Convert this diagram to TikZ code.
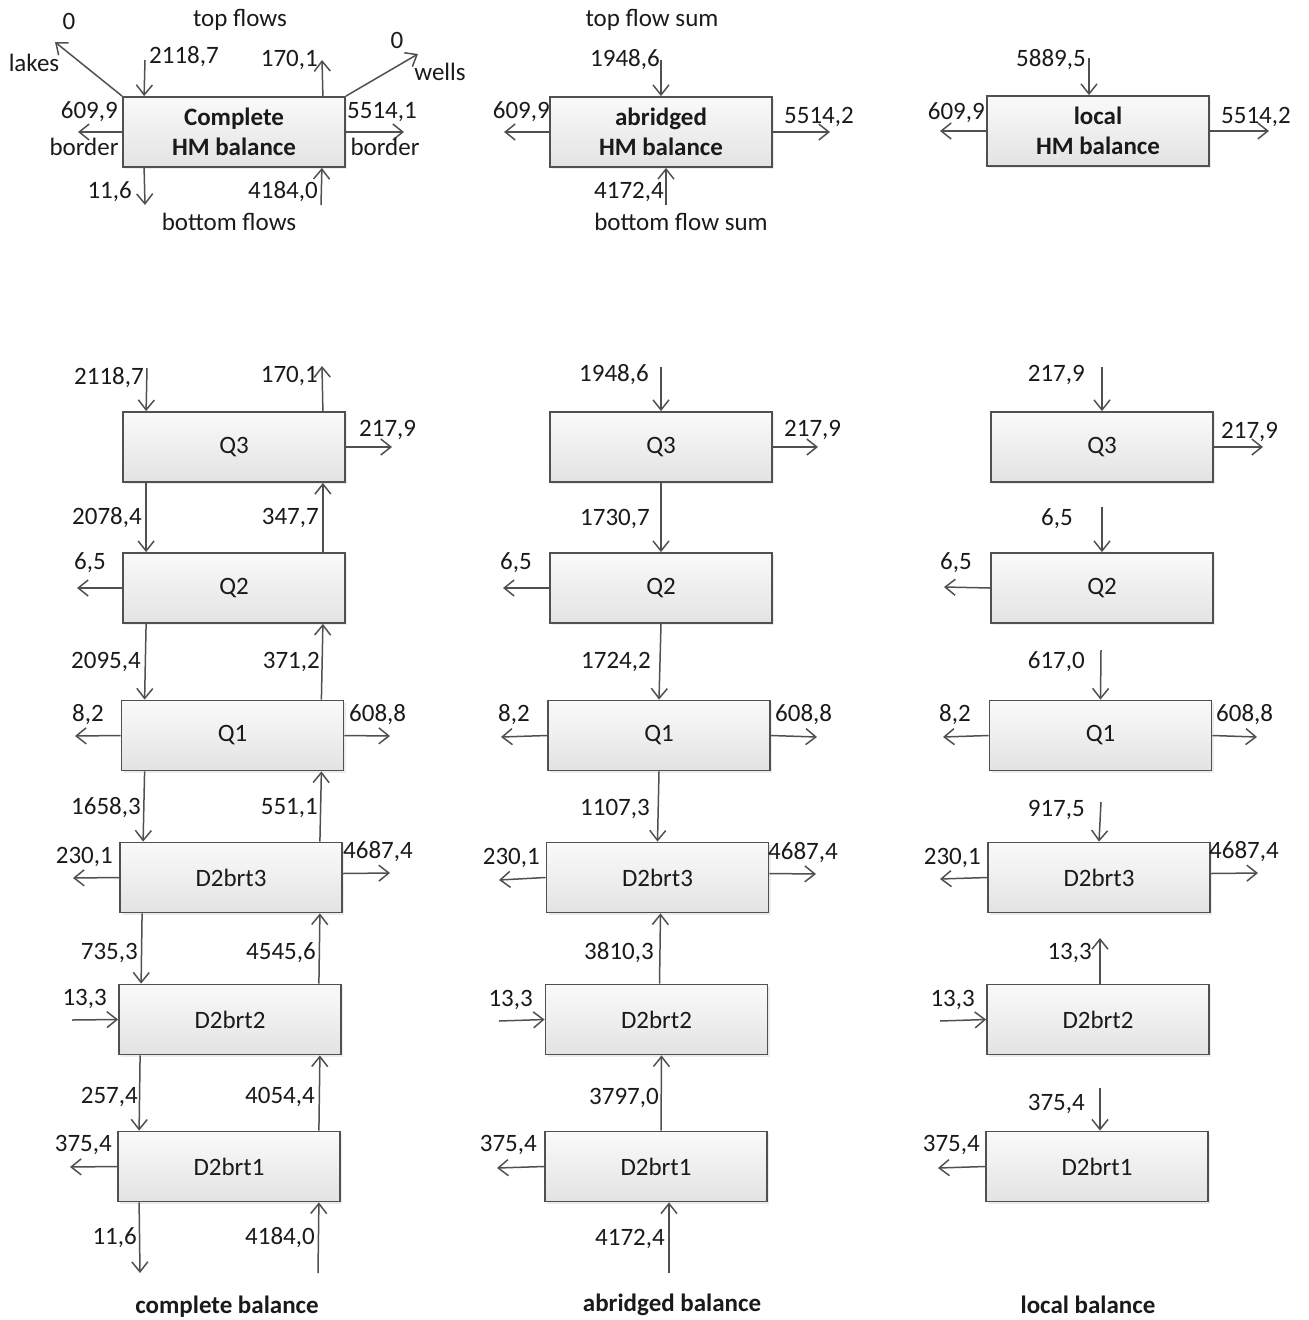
\documentclass[tikz,border=0pt]{standalone}
\usepackage{fontspec}
\setmainfont{Carlito}
\usetikzlibrary{arrows.meta,shadows}
\definecolor{ln}{HTML}{505050}
\definecolor{tx}{HTML}{1A1A1A}
\begin{document}
\begin{tikzpicture}[x=1pt,y=-1pt,
  font=\fontsize{25}{30}\selectfont, text=tx,
  blk/.style={draw=ln, line width=1.8pt, top color=black!2, bottom color=black!11,
    minimum width=222pt, minimum height=70pt, inner sep=0pt, align=center,
    drop shadow={shadow xshift=2pt,shadow yshift=-2pt,opacity=0.15}},
  flow/.style={draw=ln, line width=1.5pt, -{Straight Barb[length=10pt,width=16pt,line width=1.5pt]}},
  lbE/.style={anchor=east, inner sep=0pt},
  lbW/.style={anchor=west, inner sep=0pt},
  lbC/.style={inner sep=0pt},
  ttl/.style={inner sep=0pt, font=\fontsize{25}{30}\selectfont\bfseries}]
\useasboundingbox (0,0) rectangle (1309,1320);

% ---------------- boxes ----------------
\node[blk, font=\fontsize{25}{30}\selectfont\bfseries] (ct) at (234,132) {Complete\\HM balance};
\node[blk] (a3) at (234,447) {Q3};
\node[blk] (a2) at (234,588) {Q2};
\node[blk] (a1) at (232.5,735.5) {Q1};
\node[blk] (ad3) at (231,877.5) {D2brt3};
\node[blk] (ad2) at (230,1019.5) {D2brt2};
\node[blk] (ad1) at (229,1166.5) {D2brt1};

\node[blk, font=\fontsize{25}{30}\selectfont\bfseries] (bt) at (661,132) {abridged\\HM balance};
\node[blk] (b3) at (661,447) {Q3};
\node[blk] (b2) at (661,588) {Q2};
\node[blk] (b1) at (659,735.5) {Q1};
\node[blk] (bd3) at (657.5,877.5) {D2brt3};
\node[blk] (bd2) at (656.5,1019.5) {D2brt2};
\node[blk] (bd1) at (656,1166.5) {D2brt1};

\node[blk, font=\fontsize{25}{30}\selectfont\bfseries] (ctop) at (1098,131) {local\\HM balance};
\node[blk] (c3) at (1102,447) {Q3};
\node[blk] (c2) at (1102,588) {Q2};
\node[blk] (c1) at (1100.5,735.5) {Q1};
\node[blk] (cd3) at (1099,877.5) {D2brt3};
\node[blk] (cd2) at (1098,1019.5) {D2brt2};
\node[blk] (cd1) at (1097,1166.5) {D2brt1};

% ---------------- free ends ----------------
\coordinate (lakesE) at (55,42);
\coordinate (wellsE) at (418,54);
\coordinate (ctIn) at (145,60);
\coordinate (ctUp) at (322,60);
\coordinate (ctL) at (78,132);
\coordinate (ctR) at (404,132);
\coordinate (ctD) at (145,205);
\coordinate (ctB) at (321,205);

\coordinate (a3In) at (147,368);
\coordinate (a3Up) at (322,366);
\coordinate (a3R) at (392,447);
\coordinate (a2L) at (77,588);
\coordinate (a1L) at (75,736);
\coordinate (a1R) at (390,736);
\coordinate (ad3L) at (73,878);
\coordinate (ad3R) at (390,873);
\coordinate (ad2L) at (72,1020);
\coordinate (ad1L) at (70,1167);
\coordinate (ad1D) at (140,1273);
\coordinate (ad1B) at (318,1273);

\coordinate (btIn) at (661,60);
\coordinate (btL) at (504,132);
\coordinate (btR) at (830,132);
\coordinate (btB) at (666,205);
\coordinate (b3In) at (661,367);
\coordinate (b3R) at (818,447);
\coordinate (b2L) at (503,588);
\coordinate (b1L) at (501,737);
\coordinate (b1R) at (817,737);
\coordinate (bd3L) at (499,880);
\coordinate (bd3R) at (816,874);
\coordinate (bd2L) at (499,1021);
\coordinate (bd1L) at (497,1168);
\coordinate (bd1B) at (669,1273);

\coordinate (ctopIn) at (1089,58);
\coordinate (ctopL) at (940,131);
\coordinate (ctopR) at (1269,131);
\coordinate (c3In) at (1102,367);
\coordinate (c3R) at (1263,447);
\coordinate (c2In) at (1102,507);
\coordinate (c2L) at (944,587);
\coordinate (c1In) at (1101,650);
\coordinate (c1L) at (943,737);
\coordinate (c1R) at (1257,737);
\coordinate (cd3In) at (1101,802);
\coordinate (cd3L) at (940,879);
\coordinate (cd3R) at (1258,873);
\coordinate (cd2Up) at (1100,938);
\coordinate (cd2L) at (940,1021);
\coordinate (cd1In) at (1100,1088);
\coordinate (cd1L) at (938,1168);

% ---------------- complete balance (top) ----------------
\draw[flow] (ct.north west) -- (lakesE);
\draw[flow] (ct.north east) -- (wellsE);
\draw[flow] (ctIn) -- ([xshift=22pt]ct.north west);
\draw[flow] ([xshift=-23pt]ct.north east) -- (ctUp);
\draw[flow] (ct.west) -- (ctL);
\draw[flow] (ct.east) -- (ctR);
\draw[flow] ([xshift=22pt]ct.south west) -- (ctD);
\draw[flow] (ctB) -- ([xshift=-24pt]ct.south east);

\node[lbC] (t1) at (240,20) {top flows};
\node[lbC] (t2) at (69,21) {0};
\node[lbC] (t3) at (34,63) {lakes};
\node[lbW] (t4) at (149,57) {2118,7};
\node[lbE] (t5) at (318,60) {170,1};
\node[lbC] (t6) at (397,40) {0};
\node[lbC] (t7) at (440,72) {wells};
\node[lbE] (t8) at (118,112) {609,9};
\node[lbC] (t9) at (84,147) {border};
\node[lbW] (t10) at (347,112) {5514,1};
\node[lbC] (t11) at (385,147) {border};
\node[lbE] (t12) at (132,192) {11,6};
\node[lbE] (t13) at (318,192) {4184,0};
\node[lbC] (t14) at (229,222) {bottom flows};

% ---------------- complete balance (layers) ----------------
\draw[flow] (a3In) -- ([xshift=24pt]a3.north west);
\draw[flow] ([xshift=-23pt]a3.north east) -- (a3Up);
\draw[flow] (a3.east) -- (a3R);
\draw[flow] ([xshift=24pt]a3.south west) -- ([xshift=24pt]a2.north west);
\draw[flow] ([xshift=-23pt]a2.north east) -- ([xshift=-23pt]a3.south east);
\draw[flow] (a2.west) -- (a2L);
\draw[flow] ([xshift=24pt]a2.south west) -- ([xshift=24pt]a1.north west);
\draw[flow] ([xshift=-23pt]a1.north east) -- ([xshift=-23pt]a2.south east);
\draw[flow] (a1.west) -- (a1L);
\draw[flow] (a1.east) -- (a1R);
\draw[flow] ([xshift=24pt]a1.south west) -- ([xshift=24pt]ad3.north west);
\draw[flow] ([xshift=-23pt]ad3.north east) -- ([xshift=-23pt]a1.south east);
\draw[flow] (ad3.west) -- (ad3L);
\draw[flow] ([yshift=4pt]ad3.east) -- (ad3R);
\draw[flow] ([xshift=23pt]ad3.south west) -- ([xshift=23pt]ad2.north west);
\draw[flow] ([xshift=-23pt]ad2.north east) -- ([xshift=-23pt]ad3.south east);
\draw[flow] (ad2L) -- (ad2.west);
\draw[flow] ([xshift=22pt]ad2.south west) -- ([xshift=22pt]ad1.north west);
\draw[flow] ([xshift=-22pt]ad1.north east) -- ([xshift=-22pt]ad2.south east);
\draw[flow] (ad1.west) -- (ad1L);
\draw[flow] ([xshift=22pt]ad1.south west) -- (ad1D);
\draw[flow] (ad1B) -- ([xshift=-22pt]ad1.south east);

\node[lbE] (u1) at (144,378) {2118,7};
\node[lbE] (u2) at (318,376) {170,1};
\node[lbW] (u3) at (359,430) {217,9};
\node[lbE] (u4) at (142,518) {2078,4};
\node[lbE] (u5) at (319,518) {347,7};
\node[lbE] (u6) at (106,563) {6,5};
\node[lbE] (u7) at (141,662) {2095,4};
\node[lbE] (u8) at (320,662) {371,2};
\node[lbE] (u9) at (104,715) {8,2};
\node[lbW] (u10) at (349,715) {608,8};
\node[lbE] (u11) at (141,808) {1658,3};
\node[lbE] (u12) at (318,808) {551,1};
\node[lbE] (u13) at (113,857) {230,1};
\node[lbW] (u14) at (343,852) {4687,4};
\node[lbE] (u15) at (138,953) {735,3};
\node[lbE] (u16) at (316,953) {4545,6};
\node[lbE] (u17) at (107,999) {13,3};
\node[lbE] (u18) at (138,1097) {257,4};
\node[lbE] (u19) at (315,1097) {4054,4};
\node[lbE] (u20) at (112,1145) {375,4};
\node[lbE] (u21) at (137,1238) {11,6};
\node[lbE] (u22) at (315,1238) {4184,0};
\node[ttl] (u23) at (227,1307) {complete balance};

% ---------------- abridged balance ----------------
\draw[flow] (btIn) -- (bt.north);
\draw[flow] (bt.west) -- (btL);
\draw[flow] (bt.east) -- (btR);
\draw[flow] (btB) -- ([xshift=5pt]bt.south);

\node[lbC] (v1) at (652,20) {top flow sum};
\node[lbE] (v2) at (660,60) {1948,6};
\node[lbE] (v3) at (550,112) {609,9};
\node[lbW] (v4) at (784,117) {5514,2};
\node[lbE] (v5) at (664,192) {4172,4};
\node[lbC] (v6) at (681,222) {bottom flow sum};

\draw[flow] (b3In) -- (b3.north);
\draw[flow] (b3.east) -- (b3R);
\draw[flow] (b3.south) -- (b2.north);
\draw[flow] (b2.west) -- (b2L);
\draw[flow] (b2.south) -- (b1.north);
\draw[flow] (b1.west) -- (b1L);
\draw[flow] (b1.east) -- (b1R);
\draw[flow] (b1.south) -- (bd3.north);
\draw[flow] (bd3.west) -- (bd3L);
\draw[flow] ([yshift=4pt]bd3.east) -- (bd3R);
\draw[flow] ([xshift=3pt]bd2.north) -- ([xshift=3pt]bd3.south);
\draw[flow] (bd2L) -- (bd2.west);
\draw[flow] ([xshift=5pt]bd1.north) -- ([xshift=5pt]bd2.south);
\draw[flow] (bd1.west) -- (bd1L);
\draw[flow] (bd1B) -- ([xshift=13pt]bd1.south);

\node[lbE] (w1) at (649,375) {1948,6};
\node[lbW] (w2) at (784,430) {217,9};
\node[lbE] (w3) at (650,519) {1730,7};
\node[lbE] (w4) at (532,563) {6,5};
\node[lbE] (w5) at (651,662) {1724,2};
\node[lbE] (w6) at (530,715) {8,2};
\node[lbW] (w7) at (775,715) {608,8};
\node[lbE] (w8) at (650,809) {1107,3};
\node[lbE] (w9) at (540,858) {230,1};
\node[lbW] (w10) at (768,853) {4687,4};
\node[lbE] (w11) at (654,953) {3810,3};
\node[lbE] (w12) at (533,1000) {13,3};
\node[lbE] (w13) at (659,1098) {3797,0};
\node[lbE] (w14) at (537,1145) {375,4};
\node[lbE] (w15) at (665,1239) {4172,4};
\node[ttl] (w16) at (672,1305) {abridged balance};

% ---------------- local balance ----------------
\draw[flow] (ctopIn) -- ([xshift=-9pt]ctop.north);
\draw[flow] (ctop.west) -- (ctopL);
\draw[flow] (ctop.east) -- (ctopR);

\node[lbE] (x1) at (1086,60) {5889,5};
\node[lbE] (x2) at (985,113) {609,9};
\node[lbW] (x3) at (1221,117) {5514,2};

\draw[flow] (c3In) -- (c3.north);
\draw[flow] (c3.east) -- (c3R);
\draw[flow] (c2In) -- (c2.north);
\draw[flow] (c2.west) -- (c2L);
\draw[flow] (c1In) -- (c1.north);
\draw[flow] (c1.west) -- (c1L);
\draw[flow] (c1.east) -- (c1R);
\draw[flow] (cd3In) -- (cd3.north);
\draw[flow] (cd3.west) -- (cd3L);
\draw[flow] ([yshift=4pt]cd3.east) -- (cd3R);
\draw[flow] ([xshift=2pt]cd2.north) -- (cd2Up);
\draw[flow] (cd2L) -- (cd2.west);
\draw[flow] (cd1In) -- ([xshift=3pt]cd1.north);
\draw[flow] (cd1.west) -- (cd1L);

\node[lbE] (y1) at (1085,375) {217,9};
\node[lbW] (y2) at (1221,432) {217,9};
\node[lbE] (y3) at (1073,519) {6,5};
\node[lbE] (y4) at (972,563) {6,5};
\node[lbE] (y5) at (1085,662) {617,0};
\node[lbE] (y6) at (971,715) {8,2};
\node[lbW] (y7) at (1216,715) {608,8};
\node[lbE] (y8) at (1085,810) {917,5};
\node[lbE] (y9) at (981,858) {230,1};
\node[lbW] (y10) at (1209,852) {4687,4};
\node[lbE] (y11) at (1092,953) {13,3};
\node[lbE] (y12) at (975,1000) {13,3};
\node[lbE] (y13) at (1085,1104) {375,4};
\node[lbE] (y14) at (980,1145) {375,4};
\node[ttl] (y15) at (1088,1305) {local balance};
\end{tikzpicture}
\end{document}
